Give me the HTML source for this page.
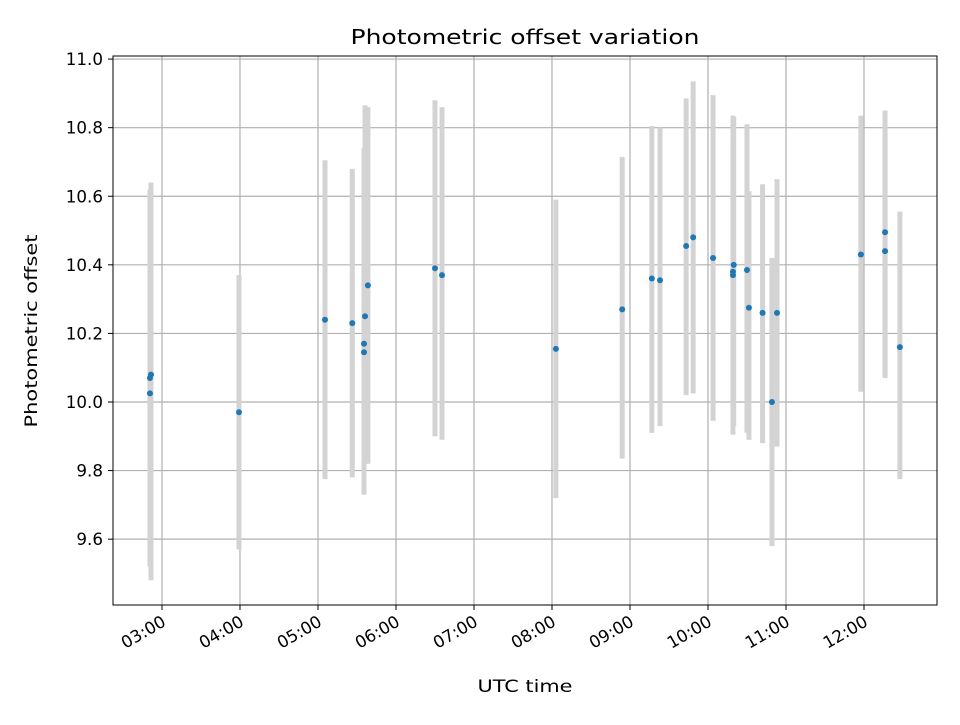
<!DOCTYPE html>
<html><head><meta charset="utf-8"><style>
body{margin:0;background:#fff;}
svg text{font-family:"DejaVu Sans","Liberation Sans",sans-serif;fill:#000;}
</style></head><body>
<svg id="chart" width="960" height="720" xmlns="http://www.w3.org/2000/svg">
<rect width="960" height="720" fill="#fff"/>
<text x="525" y="44" style="font-size:20px" textLength="349" lengthAdjust="spacingAndGlyphs" text-anchor="middle">Photometric offset variation</text>
<text x="525" y="692" style="font-size:16.7px" textLength="95" lengthAdjust="spacingAndGlyphs" text-anchor="middle">UTC time</text>
<text transform="translate(37,331) rotate(-90)" style="font-size:16.7px" textLength="193" lengthAdjust="spacingAndGlyphs" text-anchor="middle">Photometric offset</text>
<g id="grid"></g><g id="bars"></g><g id="pts"></g><g id="axes"></g>
</svg>
<script>
const times=[2.846,2.859,2.846,3.987,5.09,5.44,5.59,5.59,5.603,5.64,6.50,6.59,8.05,8.90,9.28,9.385,9.72,9.81,10.065,10.32,10.33,10.32,10.50,10.525,10.70,10.82,10.885,11.96,12.27,12.27,12.46];
const offsets=[10.07,10.08,10.025,9.97,10.24,10.23,10.17,10.145,10.25,10.34,10.39,10.37,10.155,10.27,10.36,10.355,10.455,10.48,10.42,10.38,10.40,10.37,10.385,10.275,10.26,10.00,10.26,10.43,10.495,10.44,10.16];
const lowers=[9.52,9.48,9.55,9.57,9.775,9.78,9.73,9.76,9.82,9.82,9.90,9.89,9.72,9.835,9.91,9.93,10.02,10.025,9.945,9.905,9.93,9.97,9.91,9.89,9.88,9.58,9.87,10.03,10.08,10.07,9.775];
const uppers=[10.62,10.64,10.60,10.37,10.705,10.68,10.62,10.74,10.865,10.86,10.88,10.86,10.59,10.715,10.805,10.80,10.885,10.935,10.895,10.835,10.83,10.77,10.81,10.615,10.635,10.42,10.65,10.835,10.85,10.81,10.555];
const yTicks=[9.6,9.8,10.0,10.2,10.4,10.6,10.8,11.0];
const xTicks=[3,4,5,6,7,8,9,10,11,12];
const xLabels=["03:00","04:00","05:00","06:00","07:00","08:00","09:00","10:00","11:00","12:00"];
const L=113,R=937,T=56,B=605,X0=2.372,X1=12.936,Y0=9.408,Y1=11.009;
const sx=v=>L+(v-X0)/(X1-X0)*(R-L);
const sy=v=>B-(v-Y0)/(Y1-Y0)*(B-T);
const NS="http://www.w3.org/2000/svg";
const FS=16.7;
function tlen(s){let w=0;for(const ch of s)w+=(ch==='.')?0.318:(ch===':')?0.337:0.636;return (w*FS).toFixed(1);}
function mk(p,tag,a){const e=document.createElementNS(NS,tag);for(const k in a)e.setAttribute(k,a[k]);document.getElementById(p).appendChild(e);return e;}
yTicks.forEach(v=>{const y=sy(v);
 const g=mk('grid','line',{x1:L,x2:R,y1:y,y2:y,stroke:'#b0b0b0','stroke-width':1.2});
 
 
 mk('axes','line',{x1:L-5,x2:L,y1:y,y2:y,stroke:'#000'});
 const s=v.toFixed(1);
 const t=mk('axes','text',{x:L-10,y:y+6,style:'font-size:'+FS+'px','text-anchor':'end',textLength:tlen(s),lengthAdjust:'spacingAndGlyphs'});t.textContent=s;
 
 
});
xTicks.forEach((v,i)=>{const x=sx(v);
 const g=mk('grid','line',{x1:x,x2:x,y1:T,y2:B,stroke:'#b0b0b0','stroke-width':1.2});
 
 
 mk('axes','line',{x1:x,x2:x,y1:B,y2:B+5,stroke:'#000'});
 const t=mk('axes','text',{transform:`translate(${x+5},${B+20}) rotate(-30)`,style:'font-size:'+FS+'px','text-anchor':'end',textLength:tlen(xLabels[i]),lengthAdjust:'spacingAndGlyphs'});t.textContent=xLabels[i];
 
 
});
const fr=mk('axes','rect',{x:L,y:T,width:R-L,height:B-T,fill:'none',stroke:'#000','stroke-width':1});


times.forEach((t,i)=>{const x=sx(t);
 const b=mk('bars','line',{x1:x,x2:x,y1:sy(lowers[i]),y2:sy(uppers[i]),stroke:'#d3d3d3','stroke-width':5});
 
 
 const c=mk('pts','circle',{cx:x,cy:sy(offsets[i]),r:3,fill:'#1f77b4'});
 
 
});
</script>
</body></html>
